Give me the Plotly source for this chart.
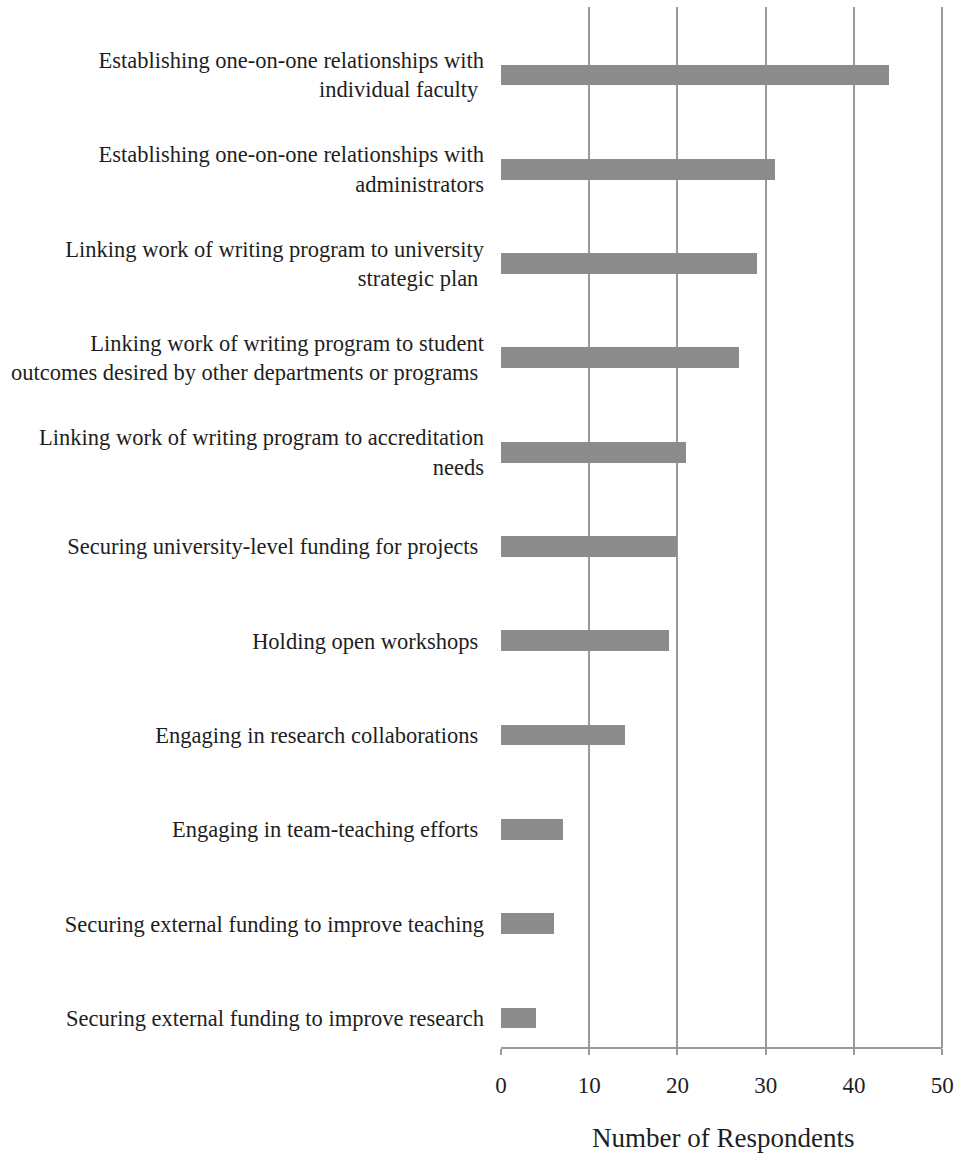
import plotly.graph_objects as go

categories = [
    "Securing external funding to improve research",
    "Securing external funding to improve teaching",
    "Engaging in team-teaching efforts ",
    "Engaging in research collaborations ",
    "Holding open workshops ",
    "Securing university-level funding for projects ",
    "Linking work of writing program to accreditation<br>needs",
    "Linking work of writing program to student<br>outcomes desired by other departments or programs ",
    "Linking work of writing program to university<br>strategic plan ",
    "Establishing one-on-one relationships with<br>administrators",
    "Establishing one-on-one relationships with<br>individual faculty ",
]
values = [4, 6, 7, 14, 19, 20, 21, 27, 29, 31, 44]
x_ticks = [0, 10, 20, 30, 40, 50]
x_title = "Number of Respondents"

FONT = "Liberation Serif"
GRID = "#9a9a9a"
TEXT = "#1e1e1e"

fig = go.Figure(go.Bar(
    x=values,
    y=list(range(len(categories))),
    orientation="h",
    marker=dict(color="#8c8c8c", line=dict(width=0)),
    width=0.22,
))

fig.update_layout(
    width=963, height=1153,
    margin=dict(l=501, r=19, t=7, b=105),
    paper_bgcolor="white", plot_bgcolor="white",
    showlegend=False,
    font=dict(family=FONT, color=TEXT),
    bargap=0,
)
fig.update_xaxes(
    range=[0, 50.2], tickvals=x_ticks, ticktext=[str(v) for v in x_ticks],
    showgrid=True, gridcolor=GRID, gridwidth=2,
    showline=False,
    ticks="outside", ticklen=6, tickcolor=GRID, tickwidth=2,
    tickfont=dict(size=23, family=FONT, color=TEXT),
    ticklabelstandoff=10,
    zeroline=False,
    automargin=False,
)
fig.update_yaxes(
    range=[-0.318, 10.72],
    tickvals=list(range(len(categories))), ticktext=categories,
    showgrid=False, showline=False, zeroline=False, ticks="",
    tickfont=dict(size=22.5, family=FONT, color=TEXT),
    ticklabelstandoff=16,
    automargin=False,
)
# bottom axis line drawn along the x-range of the tick values
fig.add_shape(type="line", xref="x", yref="paper",
              x0=x_ticks[0], x1=x_ticks[-1], y0=0, y1=0,
              line=dict(color=GRID, width=2))
# x-axis title
fig.add_annotation(text=x_title, xref="paper", yref="paper", x=0.5, y=0,
                   yanchor="middle", yshift=-90, showarrow=False,
                   font=dict(size=27, family=FONT, color=TEXT))

fig.write_html(
    "out.html",
    config={"displayModeBar": False},
    post_script="document.body.style.margin='0';document.body.style.overflow='hidden';",
)
